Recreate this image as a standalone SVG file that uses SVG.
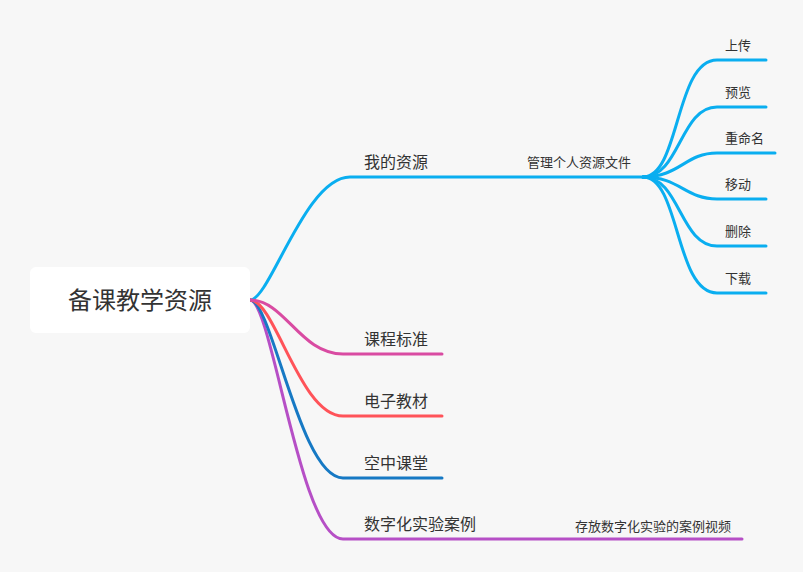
<svg xmlns="http://www.w3.org/2000/svg" width="803" height="572" viewBox="0 0 803 572">
<style>
text{font-family:"Noto Sans CJK SC","Noto Sans",sans-serif;fill:#333}
.main{font-size:16px}
.sub{font-size:13px}
.root{font-size:24px}
path{fill:none;stroke-width:3;stroke-linecap:round}
.b1{stroke:#0aaef0}
.b2{stroke:#d94ba2}
.b3{stroke:#ff5359}
.b4{stroke:#1679c4}
.b5{stroke:#b64fc6}
</style>
<rect width="803" height="572" fill="#f7f7f7"/>
<g id="connectors">
<path class="b1" d="M250,300 C270,300 305,177 350,177 L643,177"/>
<path class="b1" d="M643,177 C680,177 675,60 717,60 L766,60"/>
<path class="b1" d="M643,177 C680,177 680,107 717,107 L766,107"/>
<path class="b1" d="M643,177 C680,177 685,153 717,153 L775,153"/>
<path class="b1" d="M643,177 C680,177 685,199 717,199 L766,199"/>
<path class="b1" d="M643,177 C680,177 680,246 717,246 L766,246"/>
<path class="b1" d="M643,177 C680,177 675,293 717,293 L766,293"/>
<path class="b5" d="M250,300 C272,300 300,539 343,539 L742,539"/>
<path class="b4" d="M250,300 C272,300 300,478 343,478 L442,478"/>
<path class="b3" d="M250,300 C275,300 300,416 343,416 L442,416"/>
<path class="b2" d="M250,300 C285,300 300,354 343,354 L442,354"/>
</g>
<g id="root">
<rect x="30" y="267" width="220" height="66" rx="6" fill="#ffffff"/>
<text class="root" x="140" y="309" text-anchor="middle">备课教学资源</text>
</g>
<g id="n-wode"><text class="main" x="364" y="168">我的资源</text></g>
<g id="n-guanli"><text class="sub" x="527" y="167">管理个人资源文件</text></g>
<g id="n-shangchuan"><text class="sub" x="725" y="50">上传</text></g>
<g id="n-yulan"><text class="sub" x="725" y="97">预览</text></g>
<g id="n-chongmingming"><text class="sub" x="725" y="143">重命名</text></g>
<g id="n-yidong"><text class="sub" x="725" y="189">移动</text></g>
<g id="n-shanchu"><text class="sub" x="725" y="236">删除</text></g>
<g id="n-xiazai"><text class="sub" x="725" y="283">下载</text></g>
<g id="n-kecheng"><text class="main" x="364" y="345">课程标准</text></g>
<g id="n-dianzi"><text class="main" x="364" y="407">电子教材</text></g>
<g id="n-kongzhong"><text class="main" x="364" y="469">空中课堂</text></g>
<g id="n-shuzihua"><text class="main" x="364" y="530">数字化实验案例</text></g>
<g id="n-cunfang"><text class="sub" x="575" y="531">存放数字化实验的案例视频</text></g>
</svg>
